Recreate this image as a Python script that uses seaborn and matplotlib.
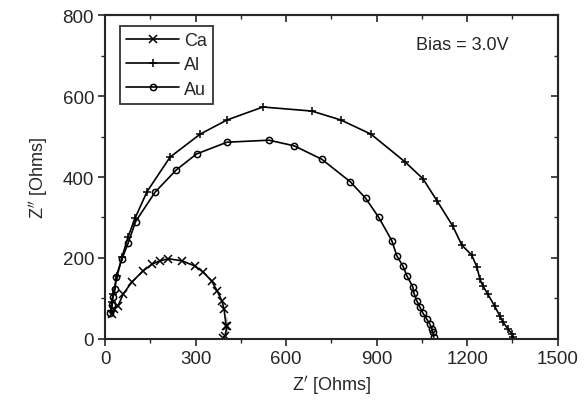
import pandas as pd
import matplotlib
matplotlib.use('Agg')
import matplotlib.pyplot as plt
import seaborn as sns

ca_re = [22, 30, 43, 60, 89, 126, 156, 182, 210, 254, 298, 325, 353, 371, 387, 394, 401, 404, 404, 401, 397, 390]
ca_im = [62, 75, 82, 111, 141, 168, 185, 193, 198, 193, 180, 165, 143, 119, 94, 74, 54, 37, 25, 12, 7, 2]

al_re = [20, 23, 26, 40, 56, 76, 99, 139, 215, 315, 404, 523, 685, 781, 881, 993, 1053, 1101, 1152,
         1182, 1215, 1232, 1242, 1252, 1268, 1291, 1308, 1318, 1335, 1348, 1351]
al_im = [70, 90, 110, 156, 202, 252, 298, 364, 449, 506, 541, 573, 563, 541, 506, 438, 396, 340, 279,
         232, 207, 178, 148, 131, 111, 81, 57, 42, 25, 12, 5]

au_re = [17, 23, 26, 33, 36, 56, 76, 101, 166, 235, 303, 404, 543, 627, 718, 813, 864, 907, 950, 967,
         987, 1000, 1020, 1023, 1033, 1043, 1053, 1066, 1076, 1083, 1086, 1089, 1089]
au_im = [64, 84, 104, 123, 153, 198, 236, 290, 363, 417, 457, 486, 491, 477, 444, 388, 347, 300, 243, 205,
         180, 156, 128, 114, 94, 79, 64, 49, 37, 25, 17, 7, 2]

series = [('Ca', ca_re, ca_im, 'x', 5.5), ('Al', al_re, al_im, '+', 6), ('Au', au_re, au_im, 'o', 4.5)]

sns.set_style('ticks')
plt.rcParams['font.family'] = ['Liberation Sans', 'DejaVu Sans']

fig = plt.figure(figsize=(5.84, 4.14), dpi=100)
ax = fig.add_axes([0.180, 0.179, 0.775, 0.782])

for name, re, im, mk, ms in series:
    df = pd.DataFrame({'re': re, 'im': im})
    sns.lineplot(data=df, x='re', y='im', sort=False, ax=ax, color='black', lw=1.2,
                 marker=mk, markersize=ms, markerfacecolor='none', markeredgecolor='black',
                 markeredgewidth=1.1, label=name)

ax.set_xlim(0, 1500)
ax.set_ylim(0, 800)
ax.set_xticks(range(0, 1501, 300))
ax.set_yticks(range(0, 801, 200))
ax.set_xticks(range(150, 1500, 300), minor=True)
ax.set_yticks(range(100, 800, 200), minor=True)
ax.tick_params(which='major', direction='out', length=5, width=1.2, labelsize=13.5, pad=3)
ax.tick_params(which='minor', direction='out', length=3, width=1)

# mirrored ticks pointing inward on top and right
top = ax.secondary_xaxis('top')
top.set_xticks(range(0, 1501, 300))
top.set_xticks(range(150, 1500, 300), minor=True)
top.tick_params(which='major', direction='in', length=5, width=1.2, labeltop=False)
top.tick_params(which='minor', direction='in', length=3, width=1)
right = ax.secondary_yaxis('right')
right.set_yticks(range(0, 801, 200))
right.set_yticks(range(100, 800, 200), minor=True)
right.tick_params(which='major', direction='in', length=5, width=1.2, labelright=False)
right.tick_params(which='minor', direction='in', length=3, width=1)

for s in ax.spines.values():
    s.set_linewidth(1.5)
top.spines['top'].set_linewidth(1.5)
right.spines['right'].set_linewidth(1.5)

ax.set_xlabel("Z$'$ [Ohms]", fontsize=13, labelpad=4)
ax.set_ylabel("Z$''$ [Ohms]", fontsize=13, labelpad=9)

ax.text(0.687, 0.91, 'Bias = 3.0V', transform=ax.transAxes, fontsize=13, va='center')

leg = ax.legend(loc='upper left', bbox_to_anchor=(0.033, 0.967), fontsize=13, frameon=True,
                fancybox=False, handlelength=2.9, handletextpad=0.3, borderpad=0.35,
                labelspacing=0.4, borderaxespad=0)
leg.get_frame().set_edgecolor('black')
leg.get_frame().set_linewidth(1.3)

fig.savefig('out.png', dpi=100)
